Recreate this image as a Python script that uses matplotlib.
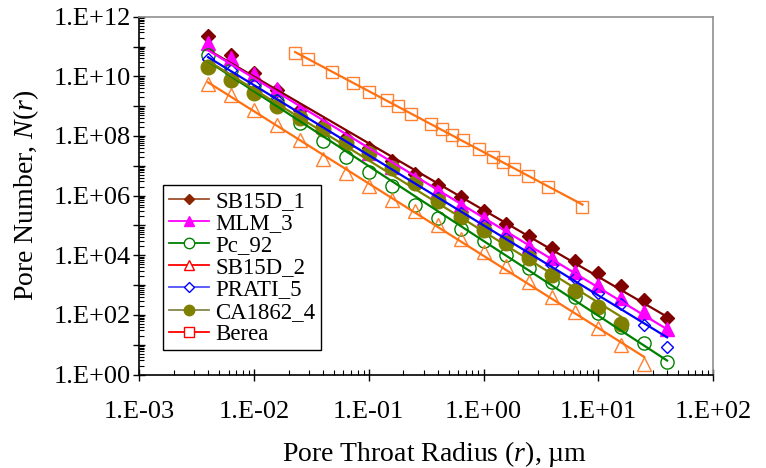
import numpy as np
import matplotlib
matplotlib.use("Agg")
import matplotlib.pyplot as plt
from matplotlib.lines import Line2D
from matplotlib.ticker import LogLocator, FuncFormatter, NullFormatter

plt.rcParams['font.family'] = ['Liberation Serif', 'DejaVu Serif']
plt.rcParams['mathtext.fontset'] = 'custom'
plt.rcParams['mathtext.rm'] = 'Liberation Serif'
plt.rcParams['mathtext.it'] = 'Liberation Serif:italic'

# ---- data ----
r_grid = [0.00398, 0.00631, 0.01, 0.0158, 0.0251, 0.0398, 0.0631, 0.1, 0.158,
          0.251, 0.398, 0.631, 1.0, 1.58, 2.51, 3.98, 6.31, 10.0, 15.8, 25.1, 39.8]

sb15d_1 = [2.3e11, 5.2e10, 1.3e10, 3.4e9, 7.6e8, 2.3e8, 8.5e7, 3.9e7, 1.4e7, 5.4e6,
           2.3e6, 8.9e5, 3.0e5, 1.1e5, 4.4e4, 1.7e4, 6.6e3, 2.5e3, 9.3e2, 3.2e2, 78]
mlm_3 = [1.35e11, 4.1e10, 1.23e10, 3.7e9, 7.2e8, 2.1e8, 7.6e7, 2.75e7, 9.1e6, 3.5e6,
         1.55e6, 4.8e5, 1.74e5, 6.2e4, 2.0e4, 7.9e3, 2.8e3, 1.0e3, 355, 123, 33]
pc_92 = [5.2e10, 1.66e10, 5.1e9, 1.45e9, 2.8e8, 6.8e7, 1.9e7, 6.0e6, 2.1e6, 5.0e5,
         1.8e5, 7.8e4, 2.9e4, 9.8e3, 3.6e3, 1.26e3, 407, 115, 40, 11.5, 2.7]
sb15d_2 = [5.5e9, 2.4e9, 7.2e8, 2.3e8, 7.4e7, 1.7e7, 5.6e6, 2.1e6, 7.2e5, 3.1e5,
           1.05e5, 3.5e4, 1.3e4, 4.4e3, 1.26e3, 407, 129, 35, 9.8, 2.2]
prati_5 = [3.8e10, 1.66e10, 5.1e9, 1.6e9, 5.2e8, 1.9e8, 6.3e7, 2.5e7, 8.1e6, 2.6e6,
           8.3e5, 2.6e5, 1.05e5, 3.7e4, 1.3e4, 4.7e3, 1.7e3, 560, 224, 45, 8.3]
ca1862_4 = [2.1e10, 7.8e9, 2.7e9, 9.8e8, 3.9e8, 1.7e8, 5.6e7, 2.6e7, 8.3e6, 2.6e6,
            6.8e5, 1.86e5, 7.1e4, 2.5e4, 7.9e3, 2.2e3, 630, 190, 50]

berea_r = [0.0228, 0.0294, 0.0475, 0.0724, 0.101, 0.144, 0.179, 0.234, 0.349, 0.439,
           0.536, 0.661, 0.916, 1.22, 1.49, 1.86, 2.42, 3.68, 7.28]
berea_n = [6.0e10, 3.9e10, 1.38e10, 6.2e9, 2.95e9, 1.55e9, 9.8e8, 5.5e8, 2.6e8, 1.7e8,
           1.1e8, 7.1e7, 3.7e7, 1.95e7, 1.32e7, 7.9e6, 4.6e6, 2.0e6, 4.3e5]

labels = ['SB15D_1', 'MLM_3', 'Pc_92', 'SB15D_2', 'PRATI_5', 'CA1862_4', 'Berea']

ORANGE_M = '#FF8030'
ORANGE_L = '#FF7010'

series = [
    # (x, y, marker, ms, face, edge, linecolor)
    (r_grid, sb15d_1, 'D', 7.5, '#800000', '#800000', '#800000'),
    (r_grid, mlm_3, '^', 10.0, '#FF00FF', '#FF00FF', '#FF00FF'),
    (r_grid, pc_92, 'o', 9.5, 'none', '#008000', '#008000'),
    (r_grid[:len(sb15d_2)], sb15d_2, '^', 10.5, 'none', ORANGE_M, ORANGE_L),
    (r_grid, prati_5, 'D', 6.5, 'none', '#0000FF', '#0000FF'),
    (r_grid[:len(ca1862_4)], ca1862_4, 'o', 10.5, '#808000', '#808000', '#808000'),
    (berea_r, berea_n, 's', 9.0, 'none', ORANGE_M, ORANGE_L),
]

fig = plt.figure(figsize=(7.66, 4.68), dpi=100)
ax = fig.add_axes([139.3 / 766, 1 - 374.5 / 468, (713 - 139.3) / 766, 357.8 / 468])
ax.set_xscale('log')
ax.set_yscale('log')

for x, y, m, ms, fc, ec, lc in series:
    ax.plot(x, y, linestyle='none', marker=m, markersize=ms, markerfacecolor=fc,
            markeredgecolor=ec, markeredgewidth=1.0, zorder=2)

for x, y, m, ms, fc, ec, lc in series:
    lx = np.log10(np.asarray(x, float))
    ly = np.log10(np.asarray(y, float))
    k, b = np.polyfit(lx, ly, 1)
    xs = np.array([lx.min(), lx.max()])
    ax.plot(10 ** xs, 10 ** (k * xs + b), color=lc, lw=1.6, zorder=3)

ax.set_xlim(1e-3, 1e2)
ax.set_ylim(1e0, 1e12)

def fmt(v, pos):
    e = int(round(np.log10(v)))
    return f"1.E{e:+03d}"

def fmt_y(v, pos):
    e = int(round(np.log10(v)))
    if e % 2:
        return ''
    return f"1.E{e:+03d}"

ax.xaxis.set_major_locator(LogLocator(base=10, numticks=20))
ax.xaxis.set_major_formatter(FuncFormatter(fmt))
ax.xaxis.set_minor_locator(LogLocator(base=10, subs=np.arange(2, 10), numticks=20))
ax.xaxis.set_minor_formatter(NullFormatter())
ax.yaxis.set_major_locator(LogLocator(base=10, numticks=20))
ax.yaxis.set_major_formatter(FuncFormatter(fmt_y))
ax.yaxis.set_minor_locator(LogLocator(base=10, subs=np.arange(2, 10), numticks=20))
ax.yaxis.set_minor_formatter(NullFormatter())

ax.tick_params(which='major', direction='inout', length=8.5, width=1.0, labelsize=19,
               color='black')
ax.tick_params(axis='x', which='major', pad=15)
ax.tick_params(axis='y', which='major', pad=2)
ax.tick_params(which='minor', direction='in', length=3.5, width=0.8, color='black')

for s in ['left', 'bottom']:
    ax.spines[s].set_color('black')
    ax.spines[s].set_linewidth(1.2)
for s in ['top', 'right']:
    ax.spines[s].set_color('#909090')
    ax.spines[s].set_linewidth(1.2)

ax.set_xlabel('Pore Throat Radius ($r$), µm', fontsize=20)
ax.set_ylabel('Pore Number, $N$($r$)', fontsize=20)
ax.xaxis.set_label_coords(0.514, -0.18)
ax.yaxis.set_label_coords(-0.172, 0.5)

# legend (colours as in the reference legend)
leg_style = [
    ('D', '#8B2500', '#8B2500', '#A0522D'),
    ('^', '#FF00FF', '#FF00FF', '#FF00FF'),
    ('o', 'white', '#008000', '#008000'),
    ('^', 'white', '#FF0000', '#FF0000'),
    ('D', 'white', '#0000FF', '#4F4FFF'),
    ('o', '#808000', '#808000', '#86864A'),
    ('s', 'white', '#FF0000', '#FF0000'),
]
handles = []
for lab, (m, fc, ec, lc) in zip(labels, leg_style):
    ms = 5.5 if m == 'D' else 7.5
    handles.append(Line2D([0], [0], color=lc, lw=1.3, marker=m, markersize=ms,
                          markerfacecolor=fc, markeredgecolor=ec, markeredgewidth=1.0))
leg = ax.legend(handles, labels, loc='upper left', bbox_to_anchor=(0.041, 0.53),
                borderaxespad=0, fontsize=16.5, frameon=True, fancybox=False,
                edgecolor='black', framealpha=1, handlelength=1.75,
                handletextpad=0.3, labelspacing=0.05, borderpad=0.25, numpoints=1)
leg.get_frame().set_linewidth(1.0)
leg.set_zorder(5)

fig.savefig('out.png', dpi=100)
